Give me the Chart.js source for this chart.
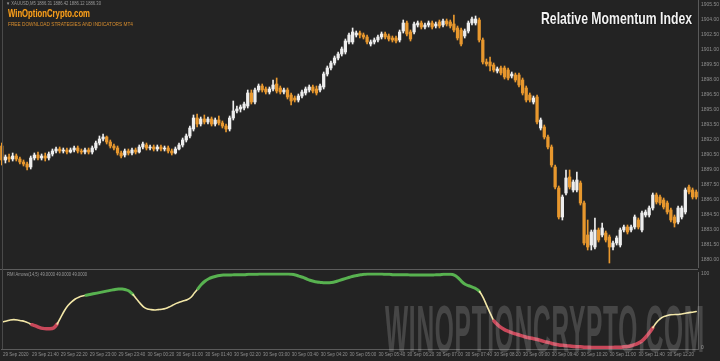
<!DOCTYPE html>
<html>
<head>
<meta charset="utf-8">
<script src="https://cdn.jsdelivr.net/npm/chart.js@4.4.1/dist/chart.umd.min.js"></script>
<style>
  html, body { margin: 0; padding: 0; background: #232323; }
  #wrap { position: relative; width: 720px; height: 361px; overflow: hidden; background: #232323;
          font-family: 'Liberation Sans', Arial, sans-serif; }
  canvas { position: absolute; left: 0; }
  #priceChart { top: 0; }
  #rmiChart { top: 271px; }
  .sep { position: absolute; left: 0; top: 269px; width: 698px; height: 1px; background: #5c5c5c; }
  .frame { position: absolute; left: 2px; top: 0; width: 1px; height: 349px; background: #4a4a4a; }
  .txt { position: absolute; white-space: nowrap; display: inline-block; transform-origin: left top; line-height: 1; }
  #info { left: 6px; top: 2px; font-size: 4.5px; color: #9a9a9a; }
  #brand { left: 8px; top: 9px; font-size: 10px; font-weight: bold; color: #f5a020; text-shadow: 0 0 1px #6a3a00; }
  #brandSub { left: 8px; top: 22px; font-size: 5.5px; color: #d98e2e; }
  #title { left: 541px; top: 10px; font-size: 17px; font-weight: bold; color: #f2f2f2; text-shadow: 0 0 2px #000; }
  #rmiName { left: 7px; top: 273px; font-size: 4.5px; color: #9a9a9a; }
  #mark { left: 385px; top: 296px; font-size: 66px; font-weight: bold; color: rgba(255,255,255,0.16); letter-spacing: 2px; }
</style>
</head>
<body>
<div id="wrap">
  <canvas id="priceChart" width="720" height="268"></canvas>
  <div class="sep"></div>
  <canvas id="rmiChart" width="720" height="90"></canvas>
  <div class="frame"></div>
  <div class="txt" id="info">&#9660; XAUUSD,M5 1886.31 1886.42 1886.12 1886.30</div>
  <div class="txt" id="brand">WinOptionCrypto.com</div>
  <div class="txt" id="brandSub">FREE DOWNLOAD STRATEGIES AND INDICATORS MT4</div>
  <div class="txt" id="title">Relative Momentum Index</div>
  <div class="txt" id="rmiName">RMI Arrows(14,5) 49.0000 49.0000 49.0000</div>
  <div class="txt" id="mark">WINOPTIONCRYPTO.COM</div>
</div>
<script>
/* ── data ── */
// [open, high, low, close]
const candles = [
  [1891.4,1891.7,1889.5,1890.0],[1890.0,1890.5,1889.7,1890.3],[1890.3,1890.6,1889.8,1890.1],[1890.1,1890.7,1889.9,1890.4],
  [1890.4,1890.6,1889.9,1890.1],[1890.1,1890.3,1889.6,1889.8],[1889.8,1890.0,1889.4,1889.6],[1889.6,1889.8,1889.0,1889.3],
  [1889.3,1890.4,1889.1,1890.2],[1890.2,1890.7,1890.0,1890.5],[1890.5,1890.8,1890.0,1890.2],[1890.2,1890.6,1890.0,1890.4],
  [1890.4,1890.7,1889.9,1890.2],[1890.2,1890.8,1890.0,1890.6],[1890.6,1891.1,1890.4,1890.9],[1890.9,1891.3,1890.7,1891.1],
  [1891.1,1891.3,1890.7,1890.9],[1890.9,1891.2,1890.7,1891.0],[1891.0,1891.2,1890.6,1890.8],[1890.8,1891.2,1890.7,1891.0],
  [1891.0,1891.4,1890.8,1891.2],[1891.2,1891.4,1890.7,1890.9],[1890.9,1891.1,1890.6,1890.8],[1890.8,1891.2,1890.6,1891.0],
  [1891.0,1891.2,1890.6,1890.8],[1890.8,1891.4,1890.6,1891.2],[1891.2,1891.9,1891.0,1891.7],[1891.7,1892.4,1891.5,1892.1],
  [1892.1,1892.6,1891.9,1892.3],[1892.3,1892.4,1891.6,1891.8],[1891.8,1892.0,1891.2,1891.4],[1891.4,1891.6,1891.0,1891.2],
  [1891.2,1891.4,1890.5,1890.7],[1890.7,1890.9,1890.2,1890.4],[1890.5,1891.1,1890.3,1890.9],[1890.9,1891.1,1890.5,1890.7],
  [1890.7,1891.2,1890.5,1891.0],[1891.0,1891.2,1890.6,1890.8],[1890.8,1891.5,1890.7,1891.3],[1891.3,1891.8,1891.1,1891.6],
  [1891.5,1891.7,1891.0,1891.2],[1891.2,1891.5,1891.0,1891.3],[1891.3,1891.5,1890.9,1891.1],[1891.1,1891.5,1890.9,1891.3],
  [1891.3,1891.5,1890.9,1891.1],[1891.1,1891.4,1890.9,1891.2],[1891.2,1891.4,1890.7,1890.9],[1890.9,1891.1,1890.5,1890.7],
  [1890.7,1891.3,1890.6,1891.1],[1891.1,1891.7,1891.0,1891.5],[1891.5,1892.2,1891.3,1892.0],[1892.0,1892.6,1891.8,1892.4],
  [1892.4,1893.4,1892.2,1893.2],[1893.1,1894.5,1892.9,1894.2],[1894.2,1894.6,1893.3,1893.6],[1893.6,1894.3,1893.4,1894.1],
  [1894.1,1894.5,1893.6,1893.8],[1893.8,1894.3,1893.6,1894.1],[1894.1,1894.3,1893.4,1893.6],[1893.6,1894.2,1893.4,1894.0],
  [1894.0,1894.4,1893.5,1893.7],[1893.7,1893.9,1893.2,1893.4],[1893.4,1893.6,1892.8,1893.1],[1893.1,1894.4,1892.9,1894.2],
  [1894.2,1895.9,1894.0,1894.9],[1894.9,1895.4,1894.7,1895.1],[1895.1,1895.5,1894.8,1895.3],[1895.2,1895.8,1895.0,1895.6],
  [1895.4,1897.0,1895.2,1896.7],[1896.7,1897.0,1895.6,1895.8],[1895.8,1897.2,1895.6,1897.0],[1897.0,1897.6,1896.8,1897.4],
  [1897.4,1897.6,1896.8,1897.0],[1897.1,1897.3,1896.6,1896.8],[1896.8,1897.3,1896.6,1897.1],[1897.1,1898.0,1896.9,1897.5],
  [1897.6,1898.2,1896.7,1896.9],[1897.2,1897.4,1896.6,1896.8],[1896.8,1897.2,1896.6,1897.0],[1897.0,1897.2,1896.1,1896.3],
  [1896.5,1896.7,1895.5,1895.9],[1896.2,1896.4,1895.8,1896.0],[1896.0,1896.6,1895.8,1896.4],[1896.4,1897.0,1896.2,1896.8],
  [1896.7,1897.3,1896.5,1897.1],[1897.0,1897.5,1896.8,1897.3],[1897.3,1897.5,1896.7,1896.9],[1897.1,1897.4,1896.5,1896.7],
  [1897.0,1897.6,1896.8,1897.4],[1897.3,1898.8,1897.1,1898.6],[1898.6,1899.4,1898.4,1899.2],[1899.2,1899.9,1899.0,1899.7],
  [1899.7,1900.4,1899.5,1900.2],[1900.2,1900.8,1900.0,1900.6],[1900.6,1901.3,1900.4,1901.1],[1900.8,1902.1,1900.6,1901.9],
  [1901.8,1902.7,1901.6,1902.5],[1901.8,1903.2,1901.6,1902.8],[1902.5,1902.9,1902.3,1902.7],[1902.7,1902.9,1902.2,1902.5],
  [1902.5,1902.7,1902.1,1902.3],[1902.3,1902.5,1901.6,1901.8],[1901.6,1902.0,1901.4,1901.8],[1901.8,1902.2,1901.6,1902.0],
  [1902.0,1902.5,1901.8,1902.3],[1902.3,1902.8,1902.1,1902.6],[1902.6,1902.8,1902.1,1902.3],[1902.4,1902.6,1901.9,1902.1],
  [1902.2,1902.4,1901.8,1902.0],[1902.2,1902.4,1901.7,1901.9],[1902.0,1903.0,1901.8,1902.8],[1902.9,1904.0,1902.7,1903.7],
  [1903.7,1903.9,1902.4,1902.6],[1902.8,1903.0,1901.9,1902.1],[1902.8,1903.8,1902.6,1903.6],[1903.5,1903.9,1903.3,1903.7],
  [1903.7,1903.9,1903.1,1903.3],[1903.3,1903.7,1903.1,1903.5],[1903.5,1903.9,1903.3,1903.7],[1903.7,1903.9,1903.1,1903.3],
  [1903.4,1903.8,1903.2,1903.6],[1903.8,1904.0,1903.2,1903.4],[1903.5,1904.1,1903.3,1903.9],[1903.9,1904.1,1903.4,1903.6],
  [1903.8,1904.0,1903.2,1903.4],[1903.6,1904.5,1902.8,1903.0],[1903.2,1903.4,1902.0,1902.2],[1903.0,1903.2,1901.4,1901.6],
  [1902.4,1903.1,1902.2,1902.9],[1902.9,1903.9,1902.7,1903.7],[1903.7,1904.3,1903.5,1904.1],[1903.7,1904.4,1903.5,1904.1],
  [1904.0,1904.2,1901.8,1902.0],[1902.0,1902.2,1899.6,1899.8],[1899.8,1900.1,1899.4,1899.6],[1899.8,1900.3,1898.9,1899.4],
  [1899.5,1899.7,1898.8,1899.0],[1898.9,1899.3,1898.7,1899.1],[1899.2,1899.4,1898.5,1898.7],[1899.2,1899.4,1898.1,1898.3],
  [1899.0,1899.2,1898.0,1898.2],[1898.4,1898.8,1898.2,1898.6],[1898.5,1898.7,1897.8,1898.0],[1898.5,1898.7,1897.3,1897.5],
  [1898.0,1898.2,1896.5,1896.7],[1897.2,1897.4,1895.8,1896.0],[1896.5,1896.7,1895.8,1896.0],[1895.8,1896.4,1895.6,1896.2],
  [1896.3,1896.5,1893.6,1893.8],[1893.2,1894.2,1893.0,1894.0],[1893.3,1893.5,1892.1,1892.3],[1892.3,1892.5,1891.1,1891.3],
  [1891.3,1891.5,1889.3,1889.5],[1889.3,1889.5,1887.1,1887.3],[1887.2,1887.4,1884.1,1884.3],[1884.3,1886.5,1884.0,1886.3],
  [1886.7,1889.0,1886.5,1888.2],[1888.3,1889.0,1887.1,1887.3],[1887.0,1888.0,1886.8,1887.8],[1887.0,1888.8,1886.8,1888.0],
  [1887.7,1887.9,1885.5,1885.7],[1885.7,1885.9,1881.5,1881.7],[1882.5,1884.0,1881.0,1881.3],[1881.5,1883.0,1881.0,1882.8],
  [1881.3,1884.2,1881.1,1883.0],[1883.0,1883.2,1881.8,1882.0],[1882.5,1883.7,1882.3,1883.2],[1882.7,1882.9,1881.8,1882.0],
  [1882.3,1882.5,1879.7,1881.3],[1881.3,1881.9,1881.0,1881.7],[1881.7,1882.4,1881.5,1882.2],[1881.5,1883.2,1881.3,1883.0],
  [1883.0,1883.5,1882.8,1883.3],[1883.3,1883.5,1882.6,1882.8],[1883.0,1883.5,1882.8,1883.3],[1883.3,1884.5,1883.1,1884.3],
  [1884.0,1884.2,1883.1,1883.3],[1883.0,1884.9,1882.8,1884.7],[1884.5,1885.0,1884.3,1884.8],[1884.5,1885.4,1884.3,1885.2],
  [1885.2,1886.7,1885.0,1886.5],[1886.5,1886.7,1885.6,1885.8],[1886.3,1886.5,1885.5,1885.7],[1886.0,1886.2,1885.1,1885.3],
  [1885.7,1885.9,1884.6,1884.8],[1885.0,1885.2,1883.8,1884.0],[1884.3,1884.5,1883.3,1883.7],[1883.8,1885.4,1883.6,1885.2],
  [1884.3,1885.4,1884.1,1885.2],[1884.8,1887.2,1884.6,1887.0],[1887.3,1887.5,1886.6,1886.8],[1887.0,1887.2,1886.1,1886.3],
  [1886.8,1887.0,1886.1,1886.3]
];

const rmi = [
  35, 36, 37.5, 38, 37.5, 36.5, 35.5, 33.5, 31, 29.5,
  27.5, 26, 25.5, 25.5, 26.5, 32, 41, 50, 57, 62,
  66, 68.5, 70, 71, 72, 73, 74, 75, 76, 77,
  78, 79, 79.5, 79.5, 78.5, 76.5, 72, 66, 60, 55,
  52.5, 51.5, 51, 51.5, 52, 53, 55, 57.5, 60, 62,
  63.5, 65, 68, 74, 80, 86, 90.5, 93.5, 95.5, 97,
  98, 98.5, 98.5, 98.5, 99, 99, 99, 99, 99.5, 99.5,
  99.5, 100, 100, 100, 100, 100, 100, 100, 100, 100,
  99.5, 98.5, 97, 95.5, 93.5, 91.5, 90, 89, 88.5, 88,
  88, 88.5, 89.5, 91, 92.5, 94, 95.5, 97, 98, 99,
  99.5, 100, 100, 100, 100, 100, 99.5, 99.5, 99, 99,
  99, 99, 99, 98.5, 98.5, 98.5, 98.5, 98.5, 98.5, 98.5,
  99, 99, 99.5, 99.5, 99.5, 98.5, 95, 90, 86, 84,
  82, 80, 76, 68, 57, 46, 36, 31, 27, 24,
  22, 20, 18.5, 17, 15.5, 14, 13, 12, 11, 9.5,
  8, 7, 5.5, 4.5, 3.5, 3, 2.5, 2, 1.5, 1,
  1, 0.5, 0.5, 0, 0, 0, 0, 0, 0, 0,
  0.5, 0.5, 1, 1.5, 2.5, 4, 6, 9, 14, 20,
  27, 34, 39, 42, 43.5, 44.5, 45, 45, 45.5, 46.5,
  47.5, 48, 49
];

// colour buffer of the indicator: [first bar, state]  g = strong up, y = neutral, r = strong down
const rmiZones = [[0, 'y'], [8, 'r'], [15, 'y'], [23, 'g'], [36, 'y'], [54, 'g'], [132, 'y'], [136, 'r'], [180, 'y']];

const priceTicks = [1905.5, 1904.0, 1902.5, 1901.0, 1899.5, 1898.0, 1896.5, 1895.0, 1893.5,
                    1892.0, 1890.5, 1889.0, 1887.5, 1886.0, 1884.5, 1883.0, 1881.5, 1880.0];
const rmiTicks = [0, 100];
const timeTicks = ['29 Sep 2020', '29 Sep 21:40', '29 Sep 22:20', '29 Sep 23:00', '29 Sep 23:40', '30 Sep 00:20',
                   '30 Sep 01:00', '30 Sep 01:40', '30 Sep 02:20', '30 Sep 03:00', '30 Sep 03:40', '30 Sep 04:20',
                   '30 Sep 05:00', '30 Sep 05:40', '30 Sep 06:20', '30 Sep 07:00', '30 Sep 07:40', '30 Sep 08:20',
                   '30 Sep 09:00', '30 Sep 09:40', '30 Sep 10:20', '30 Sep 11:00', '30 Sep 11:40', '30 Sep 12:20'];
const TICK_EVERY = 8;

/* ── style ── */
const ORANGE = '#E8982E';
const WHITE  = '#EEEEEE';
const GREEN  = '#58B250';
const RED    = '#C8485A';
const CREAM  = '#F2E6A6';
const TICK   = '#8E8E8E';
const AXIS   = '#5A5A5A';
const tickFont = { family: "'Liberation Sans', Arial, sans-serif", size: 5 };

/* ── text fitting ── */
function fitWidth(id, w) {
  const el = document.getElementById(id);
  const k = w / el.getBoundingClientRect().width;
  el.style.transform = `scaleX(${k})`;
}
fitWidth('title', 151);
fitWidth('brand', 82);
fitWidth('brandSub', 125);
fitWidth('mark', 320);
fitWidth('info', 95);
fitWidth('rmiName', 80);

// right-hand axis: fixed width, no label padding eating into the plot
const sideAxis = s => { s.width = 22; s.paddingTop = 0; s.paddingBottom = 0; };

/* ── price chart ── */
const labels = candles.map((_, i) => i);
const candleColors = candles.map(c => c[3] >= c[0] ? WHITE : ORANGE);

new Chart(document.getElementById('priceChart'), {
  type: 'bar',
  data: {
    labels,
    datasets: [
      {
        data: candles.map(c => [c[2], c[1]]),
        backgroundColor: candleColors,
        barThickness: 1,
        grouped: false
      },
      {
        data: candles.map(c => [c[0], c[3]]),
        backgroundColor: candleColors,
        barThickness: 2.6,
        minBarLength: 1,
        grouped: false
      }
    ]
  },
  options: {
    responsive: false,
    animation: false,
    layout: { padding: 0 },
    plugins: { legend: { display: false }, tooltip: { enabled: false } },
    scales: {
      x: { display: false, offset: true },
      y: {
        position: 'right',
        min: 1879.2,
        max: 1906.0,
        grid: { display: false, drawTicks: false },
        border: { color: AXIS },
        ticks: { color: TICK, font: tickFont, padding: 3, callback: v => v.toFixed(2) },
        afterBuildTicks: s => { s.ticks = priceTicks.map(v => ({ value: v })); },
        afterFit: sideAxis
      }
    }
  }
});

/* ── RMI chart ── */
const zoneAt = i => {
  let z = rmiZones[0][1];
  for (const [start, st] of rmiZones) if (i >= start) z = st;
  return z;
};
const zoneColor = { g: GREEN, y: CREAM, r: RED };
const zoneWidth = { g: 3, y: 1.6, r: 3.5 };

new Chart(document.getElementById('rmiChart'), {
  type: 'line',
  data: {
    labels,
    datasets: [{
      data: rmi,
      pointRadius: 0,
      cubicInterpolationMode: 'monotone',
      borderColor: CREAM,
      borderCapStyle: 'round',
      borderJoinStyle: 'round',
      segment: {
        borderColor: ctx => zoneColor[zoneAt(ctx.p0DataIndex)],
        borderWidth: ctx => zoneWidth[zoneAt(ctx.p0DataIndex)]
      }
    }]
  },
  options: {
    responsive: false,
    animation: false,
    layout: { padding: { top: 1.5 } },
    plugins: { legend: { display: false }, tooltip: { enabled: false } },
    scales: {
      x: {
        offset: true,
        grid: { display: false, drawTicks: false },
        border: { color: AXIS },
        ticks: {
          autoSkip: false, maxRotation: 0, align: 'start', padding: 3,
          color: TICK, font: { ...tickFont, size: 4.5 },
          callback: (v, i) => i % TICK_EVERY === 0 ? (timeTicks[i / TICK_EVERY] || '') : ''
        },
        afterFit: s => { s.height = 12; }
      },
      y: {
        position: 'right',
        min: -2,
        max: 102,
        grid: { display: false, drawTicks: false },
        border: { color: AXIS },
        ticks: { color: TICK, font: tickFont, padding: 3 },
        afterBuildTicks: s => { s.ticks = rmiTicks.map(v => ({ value: v })); },
        afterFit: sideAxis
      }
    }
  }
});
</script>
</body>
</html>
